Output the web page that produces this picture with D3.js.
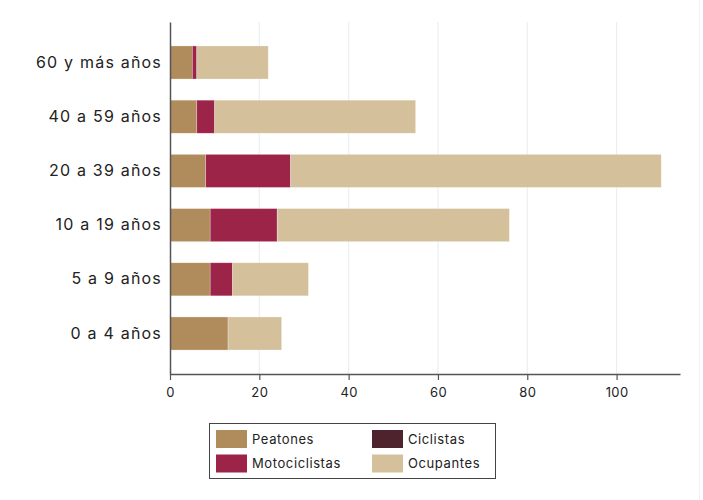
<!DOCTYPE html>
<html>
<head>
<meta charset="utf-8">
<script src="https://cdn.jsdelivr.net/npm/d3@7"></script>
<style>
  html, body { margin: 0; padding: 0; background: #fff; }
  svg { display: block; font-family: Inter, "Open Sans", sans-serif; }
</style>
</head>
<body>
<svg id="chart" width="703" height="500"></svg>
<script>
const categories = ["60 y más años", "40 a 59 años", "20 a 39 años", "10 a 19 años", "5 a 9 años", "0 a 4 años"];
const seriesNames = ["Peatones", "Motociclistas", "Ciclistas", "Ocupantes"];
const peatones =      [5, 6, 8, 9, 9, 13];
const motociclistas = [1, 4, 19, 15, 5, 0];
const ciclistas =     [0, 0, 0, 0, 0, 0];
const ocupantes =     [16, 45, 83, 52, 17, 12];
const xTicks = [0, 20, 40, 60, 80, 100];
const colors = ["#b08b5b", "#9d2449", "#4e232e", "#d4c19c"];

const svg = d3.select("#chart");
const margin = { left: 170, right: 23, top: 22, bottom: 126 };
const W = 703, H = 500;
const x = d3.scaleLinear().domain([0, 114.2]).range([margin.left, W - margin.right]);
const y = d3.scaleBand().domain(categories).range([margin.top, H - margin.bottom])
  .paddingInner(0.39).paddingOuter(0.442);

// faint right border
svg.append("line").attr("x1", 699.5).attr("x2", 699.5).attr("y1", 0).attr("y2", H)
  .attr("stroke", "#edf2f4").attr("stroke-width", 1);

// gridlines
svg.append("g").selectAll("line").data(xTicks.filter(d => d > 0)).join("line")
  .attr("x1", d => x(d)).attr("x2", d => x(d))
  .attr("y1", margin.top).attr("y2", H - margin.bottom)
  .attr("stroke", "#e9eff2").attr("stroke-width", 1.2);

const table = categories.map((c, i) => ({
  cat: c, Peatones: peatones[i], Motociclistas: motociclistas[i],
  Ciclistas: ciclistas[i], Ocupantes: ocupantes[i]
}));
const stacked = d3.stack().keys(seriesNames)(table);

svg.append("g").selectAll("g").data(stacked).join("g")
  .attr("fill", (d, i) => colors[i])
  .selectAll("rect").data(d => d.filter(v => v[1] - v[0] > 0)).join("rect")
  .attr("x", d => x(d[0]))
  .attr("width", d => x(d[1]) - x(d[0]))
  .attr("y", d => y(d.data.cat))
  .attr("height", y.bandwidth())
  .attr("stroke", "#ffffff").attr("stroke-opacity", 0.45).attr("stroke-width", 0.6);

// x axis
const xAxis = svg.append("g").attr("transform", `translate(0,${H - margin.bottom})`)
  .call(d3.axisBottom(x).tickValues(xTicks).tickSize(6).tickPadding(8).tickSizeOuter(0));
xAxis.select(".domain").attr("stroke", "#555").attr("stroke-width", 1.5);
xAxis.selectAll(".tick line").attr("stroke", "#555").attr("stroke-width", 1.2);
xAxis.selectAll("text").attr("font-size", 13).attr("fill", "#222")
  .attr("letter-spacing", 0.4)
  .attr("font-family", "Inter, 'Open Sans', sans-serif");

// y axis
const yAxis = svg.append("g").attr("transform", `translate(${margin.left},0)`)
  .call(d3.axisLeft(y).tickSize(0).tickPadding(8).tickSizeOuter(0));
yAxis.select(".domain").attr("stroke", "#555").attr("stroke-width", 1.5);
yAxis.selectAll("text").attr("font-size", 16).attr("fill", "#222")
  .attr("letter-spacing", 1.2)
  .attr("font-family", "Inter, 'Open Sans', sans-serif");

// legend
const lg = svg.append("g");
lg.append("rect").attr("x", 209.5).attr("y", 423.5).attr("width", 286).attr("height", 55)
  .attr("fill", "#fff").attr("stroke", "#444").attr("stroke-width", 1);
const legendPos = [
  { sx: 216, sy: 430 }, { sx: 216, sy: 454.5 },
  { sx: 372, sy: 430 }, { sx: 372, sy: 454.5 }
];
const item = lg.selectAll("g.item").data(seriesNames).join("g").attr("class", "item")
  .attr("transform", (d, i) => `translate(${legendPos[i].sx},${legendPos[i].sy})`);
item.append("rect").attr("width", 31).attr("height", 18).attr("fill", (d, i) => colors[i]);
item.append("text").attr("x", 36).attr("y", 9).attr("dy", "0.35em")
  .attr("font-size", 13).attr("letter-spacing", 0.6).attr("fill", "#222").text(d => d);
</script>
</body>
</html>
